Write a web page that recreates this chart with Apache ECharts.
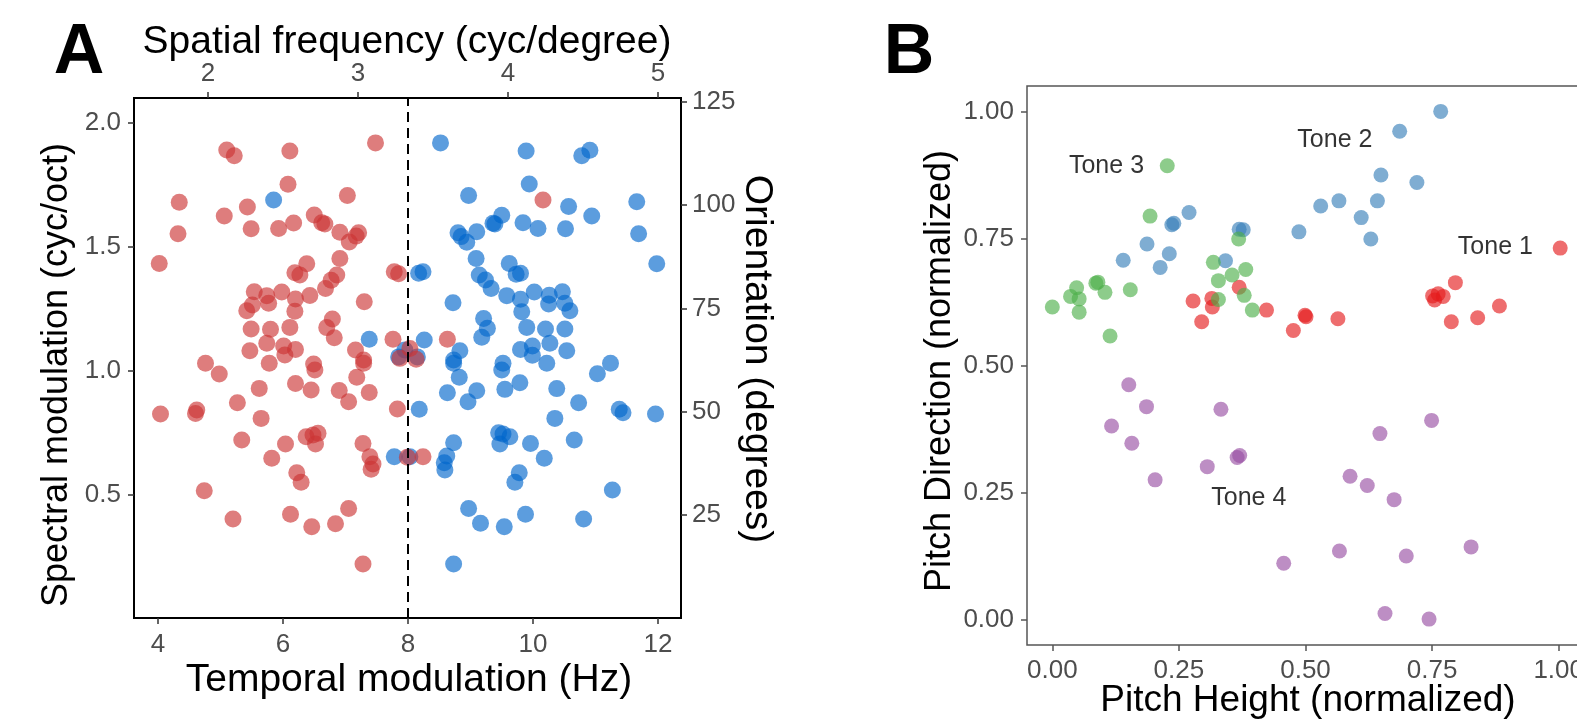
<!DOCTYPE html>
<html>
<head>
<meta charset="utf-8">
<script src="https://cdn.jsdelivr.net/npm/echarts@6/dist/echarts.min.js"></script>
<style>html,body{margin:0;padding:0;background:#fff}#c{width:1577px;height:720px}</style>
</head>
<body>
<div id="c"></div>
<script>
// ---------- Panel A data: [temporal modulation (Hz), spectral modulation (cyc/oct)] ----------
const redPoints = [[7.48,1.918],[5.10,1.889],[5.22,1.866],[6.11,1.885],[6.08,1.751],[4.34,1.679],[7.03,1.706],[5.43,1.659],[5.06,1.623],[5.49,1.572],[5.93,1.573],[6.17,1.595],[6.50,1.627],[6.62,1.596],[6.67,1.591],[6.91,1.558],[7.21,1.556],[7.17,1.542],[7.06,1.518],[4.32,1.552],[4.02,1.432],[6.91,1.452],[6.38,1.431],[6.19,1.394],[6.27,1.385],[6.86,1.385],[6.77,1.364],[6.68,1.331],[7.78,1.398],[7.85,1.390],[7.30,1.277],[5.54,1.318],[5.74,1.302],[5.77,1.271],[5.51,1.264],[5.42,1.241],[5.98,1.317],[6.20,1.288],[6.43,1.303],[6.19,1.239],[6.79,1.208],[6.70,1.173],[6.82,1.132],[5.49,1.167],[5.80,1.166],[6.11,1.174],[5.74,1.110],[6.01,1.099],[6.20,1.085],[5.47,1.080],[7.76,1.126],[7.16,1.083],[6.03,1.063],[7.29,1.042],[7.29,1.029],[4.76,1.029],[4.98,0.986],[5.78,1.029],[6.49,1.026],[6.51,1.002],[6.20,0.948],[6.45,0.921],[5.62,0.928],[5.27,0.870],[6.90,0.919],[7.05,0.874],[7.18,0.973],[7.38,0.911],[4.04,0.825],[4.62,0.841],[4.60,0.827],[5.65,0.807],[7.83,0.845],[6.37,0.733],[6.48,0.740],[6.56,0.747],[6.52,0.704],[5.34,0.720],[6.04,0.704],[5.82,0.646],[7.28,0.706],[7.39,0.652],[7.44,0.623],[7.41,0.602],[6.22,0.588],[6.29,0.549],[4.74,0.515],[5.20,0.401],[6.12,0.420],[6.46,0.370],[6.84,0.382],[7.05,0.444],[7.28,0.220],[7.99,0.650],[8.63,1.126],[8.03,1.089],[7.87,1.049],[8.13,1.045],[8.24,0.652],[10.16,1.688]];
const bluePoints = [[5.85,1.688],[7.38,1.126],[7.78,0.652],[7.85,1.055],[8.15,1.055],[7.95,1.083],[8.26,1.123],[8.18,0.844],[8.03,0.652],[8.73,0.709],[8.62,0.655],[8.58,0.628],[8.59,0.599],[8.72,1.273],[9.21,1.210],[9.27,1.170],[9.18,1.134],[8.83,1.080],[8.73,1.042],[8.73,1.029],[8.82,0.973],[8.63,0.910],[9.10,0.918],[8.96,0.874],[8.52,1.918],[9.89,1.885],[10.78,1.866],[10.91,1.888],[9.94,1.752],[8.97,1.706],[10.57,1.661],[11.66,1.681],[10.94,1.623],[9.50,1.626],[9.36,1.594],[9.39,1.591],[9.84,1.596],[10.08,1.573],[10.52,1.572],[11.69,1.552],[8.80,1.556],[8.85,1.540],[8.94,1.517],[9.10,1.560],[9.09,1.452],[11.98,1.431],[9.62,1.432],[9.73,1.388],[9.80,1.392],[8.17,1.392],[8.24,1.398],[9.14,1.385],[9.24,1.365],[9.33,1.331],[9.58,1.302],[9.80,1.287],[9.82,1.237],[10.02,1.317],[10.26,1.304],[10.25,1.268],[10.47,1.318],[10.51,1.271],[10.59,1.241],[9.90,1.174],[10.20,1.167],[10.51,1.167],[10.27,1.110],[9.99,1.099],[9.80,1.085],[10.54,1.080],[9.52,1.029],[9.50,1.002],[9.55,0.924],[9.79,0.951],[9.99,1.062],[10.22,1.029],[10.38,0.927],[10.73,0.870],[11.03,0.987],[11.24,1.029],[11.38,0.844],[11.44,0.830],[11.96,0.825],[10.35,0.807],[10.66,0.720],[9.45,0.749],[9.52,0.744],[9.63,0.733],[9.47,0.704],[9.96,0.706],[10.18,0.646],[9.78,0.588],[9.71,0.549],[11.27,0.518],[8.97,0.444],[9.16,0.384],[9.54,0.370],[9.88,0.420],[10.81,0.401],[8.73,0.220]];
const dividerHz = 8;
const temporalTicks = [4, 6, 8, 10, 12];
const spectralTicks = [0.5, 1.0, 1.5, 2.0];
const spatialTicks = [2, 3, 4, 5];
const orientationTicks = [25, 50, 75, 100, 125];
const temporalRange = [3.616, 12.368];
const spectralRange = [0.002, 2.099];
const spatialPerHz = 5 / 12;      // top axis scale relative to bottom axis
const degreesPerCycOct = 60;      // right axis scale relative to left axis

// ---------- Panel B data: [pitch height, pitch direction] ----------
const tone1 = [[0.278,0.627],[0.295,0.586],[0.315,0.632],[0.316,0.615],[0.369,0.654],[0.423,0.609],[0.476,0.569],[0.499,0.599],[0.501,0.596],[0.564,0.592],[0.751,0.637],[0.762,0.641],[0.772,0.636],[0.755,0.629],[0.796,0.663],[0.788,0.586],[0.840,0.594],[0.883,0.617],[1.003,0.731]];
const tone2 = [[0.140,0.707],[0.187,0.739],[0.213,0.693],[0.231,0.720],[0.236,0.777],[0.240,0.780],[0.270,0.801],[0.342,0.706],[0.369,0.768],[0.377,0.767],[0.487,0.763],[0.767,1.000],[0.686,0.961],[0.649,0.875],[0.720,0.860],[0.566,0.824],[0.530,0.814],[0.642,0.824],[0.610,0.791],[0.629,0.749]];
const tone3 = [[0.227,0.893],[0.193,0.794],[0.000,0.615],[0.048,0.653],[0.036,0.636],[0.053,0.631],[0.053,0.605],[0.086,0.662],[0.090,0.664],[0.104,0.644],[0.114,0.558],[0.154,0.649],[0.318,0.703],[0.328,0.667],[0.355,0.678],[0.368,0.749],[0.382,0.689],[0.379,0.638],[0.328,0.630],[0.395,0.609]];
const tone4 = [[0.151,0.462],[0.186,0.419],[0.117,0.381],[0.157,0.347],[0.203,0.275],[0.333,0.414],[0.306,0.301],[0.365,0.319],[0.370,0.323],[0.457,0.111],[0.567,0.135],[0.588,0.282],[0.622,0.264],[0.647,0.366],[0.675,0.236],[0.749,0.392],[0.699,0.125],[0.827,0.143],[0.657,0.012],[0.744,0.001]];
const toneLabels = [['Tone 1',0.875,0.732],['Tone 2',0.558,0.944],['Tone 3',0.107,0.893],['Tone 4',0.388,0.239]];
const pitchTicks = [0, 0.25, 0.5, 0.75, 1.0];
const pitchRange = [-0.05, 1.05];

const FONT = "'Liberation Sans', Arial, Helvetica, sans-serif";
const tickLbl = {color:'#4d4d4d', fontSize:26, fontFamily:FONT};

function axisCommon(ticks, fmt, tickColor, margin) {
  return {
    axisLine:{show:false, onZero:false},
    splitLine:{show:false},
    axisTick:{show:true, length:6, lineStyle:{color:tickColor, width:1.5}, customValues:ticks},
    axisLabel:Object.assign({margin:margin, customValues:ticks, formatter:fmt, showMinLabel:true, showMaxLabel:true}, tickLbl)
  };
}

const chart = echarts.init(document.getElementById('c'), null, {renderer:'canvas'});
const option = {
  animation:false,
  backgroundColor:'#fff',
  grid:[
    {left:134, top:98, width:547, height:520, show:true, borderColor:'#000', borderWidth:2, backgroundColor:'transparent', containLabel:false, outerBoundsMode:'none'},
    {left:1027, top:86, width:557, height:559, show:true, borderColor:'#555', borderWidth:1.5, backgroundColor:'transparent', containLabel:false, outerBoundsMode:'none'}
  ],
  xAxis:[
    Object.assign({type:'value', gridIndex:0, position:'bottom', min:temporalRange[0], max:temporalRange[1]},
      axisCommon(temporalTicks, v => String(v), '#333', 14)),
    Object.assign({type:'value', gridIndex:0, position:'top', min:temporalRange[0]*spatialPerHz, max:temporalRange[1]*spatialPerHz},
      axisCommon(spatialTicks, v => String(v), '#333', 11)),
    Object.assign({type:'value', gridIndex:1, position:'bottom', min:pitchRange[0], max:pitchRange[1]},
      axisCommon(pitchTicks, v => v.toFixed(2), '#555', 13))
  ],
  yAxis:[
    Object.assign({type:'value', gridIndex:0, position:'left', min:spectralRange[0], max:spectralRange[1]},
      axisCommon(spectralTicks, v => v.toFixed(1), '#333', 13)),
    Object.assign({type:'value', gridIndex:0, position:'right', min:spectralRange[0]*degreesPerCycOct, max:spectralRange[1]*degreesPerCycOct},
      axisCommon(orientationTicks, v => String(v), '#333', 11)),
    Object.assign({type:'value', gridIndex:1, position:'left', min:pitchRange[0], max:pitchRange[1]},
      axisCommon(pitchTicks, v => v.toFixed(2), '#555', 13))
  ],
  series:[
    {type:'scatter', xAxisIndex:0, yAxisIndex:0, data:bluePoints, symbolSize:17,
      itemStyle:{color:'rgba(0,102,204,0.8)'}, silent:true},
    {type:'scatter', xAxisIndex:0, yAxisIndex:0, data:redPoints, symbolSize:17,
      itemStyle:{color:'rgba(204,51,51,0.8)'}, silent:true,
      markLine:{silent:true, symbol:['none','none'], label:{show:false},
        lineStyle:{color:'#000', type:[10,6], width:2}, data:[{xAxis:dividerHz}]}},
    {type:'scatter', xAxisIndex:2, yAxisIndex:2, data:tone1, symbolSize:15, itemStyle:{color:'rgba(228,26,28,0.8)'}, silent:true},
    {type:'scatter', xAxisIndex:2, yAxisIndex:2, data:tone2, symbolSize:15, itemStyle:{color:'rgba(55,126,184,0.8)'}, silent:true},
    {type:'scatter', xAxisIndex:2, yAxisIndex:2, data:tone3, symbolSize:15, itemStyle:{color:'rgba(77,175,74,0.8)'}, silent:true},
    {type:'scatter', xAxisIndex:2, yAxisIndex:2, data:tone4, symbolSize:15, itemStyle:{color:'rgba(152,78,163,0.8)'}, silent:true},
    {type:'scatter', xAxisIndex:2, yAxisIndex:2, silent:true, symbolSize:1,
      data:toneLabels.map(t => ({name:t[0], value:[t[1], t[2]]})),
      itemStyle:{color:'transparent'},
      label:{show:true, position:'inside', formatter:p => p.name, color:'#000', fontSize:25, fontFamily:FONT}}
  ],
  graphic:[
    {type:'text', x:79, y:54, style:{text:'A', font:"bold 70px " + FONT, fill:'#000', align:'center', verticalAlign:'middle'}},
    {type:'text', x:909, y:54, style:{text:'B', font:"bold 70px " + FONT, fill:'#000', align:'center', verticalAlign:'middle'}},
    {type:'text', x:407, y:42, style:{text:'Spatial frequency (cyc/degree)', font:"39px " + FONT, fill:'#000', align:'center', verticalAlign:'middle'}},
    {type:'text', x:409, y:680, style:{text:'Temporal modulation (Hz)', font:"39px " + FONT, fill:'#000', align:'center', verticalAlign:'middle'}},
    {type:'text', x:57, y:375, rotation:Math.PI/2, style:{text:'Spectral modulation (cyc/oct)', font:"36px " + FONT, fill:'#000', align:'center', verticalAlign:'middle'}},
    {type:'text', x:757, y:359, rotation:-Math.PI/2, style:{text:'Orientation (degrees)', font:"39px " + FONT, fill:'#000', align:'center', verticalAlign:'middle'}},
    {type:'text', x:940, y:371, rotation:Math.PI/2, style:{text:'Pitch Direction (normalized)', font:"36px " + FONT, fill:'#000', align:'center', verticalAlign:'middle'}},
    {type:'text', x:1308, y:701, style:{text:'Pitch Height (normalized)', font:"37px " + FONT, fill:'#000', align:'center', verticalAlign:'middle'}}
  ]
};
chart.setOption(option);
</script>
</body>
</html>
